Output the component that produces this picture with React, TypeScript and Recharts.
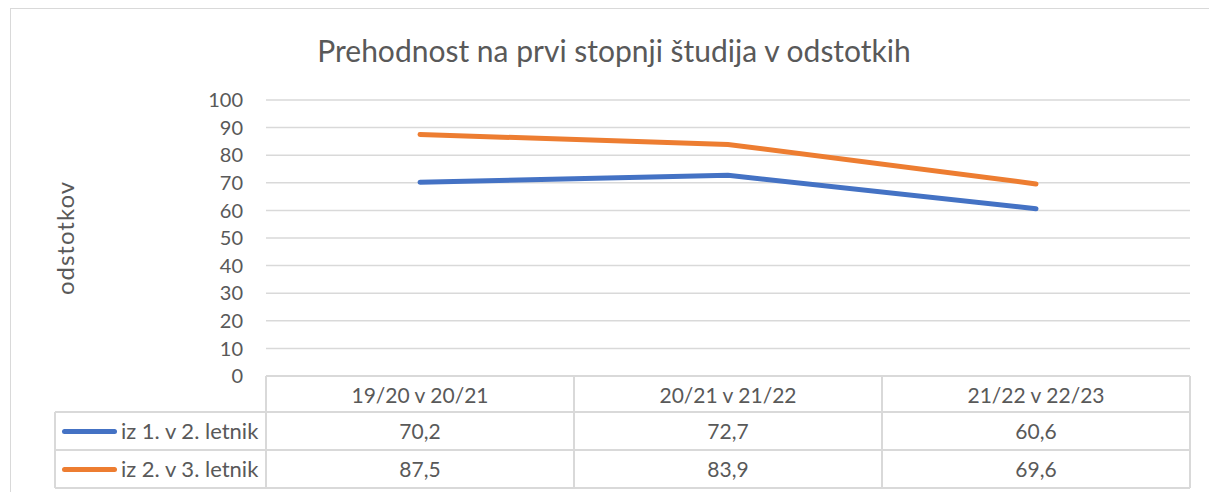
import { LineChart, Line, XAxis, YAxis, CartesianGrid } from 'recharts';

const categories = ['19/20 v 20/21', '20/21 v 21/22', '21/22 v 22/23'];
const firstToSecond = [70.2, 72.7, 60.6];
const secondToThird = [87.5, 83.9, 69.6];
const seriesNames = ['iz 1. v 2. letnik', 'iz 2. v 3. letnik'];
const seriesColors = ['#4472C4', '#ED7D31'];
const yTicks = [0, 10, 20, 30, 40, 50, 60, 70, 80, 90, 100];

const title = 'Prehodnost na prvi stopnji študija v odstotkih';
const yLabel = 'odstotkov';

const FONT = 'Lato, "Liberation Sans", sans-serif';
const TEXT = '#595959';
const GRID = '#d9d9d9';

// chart geometry (plot area matches the excel layout)
const W = 1209;
const H = 492;
const PLOT_LEFT = 266;
const PLOT_RIGHT = 1190;
const PLOT_TOP = 100;
const PLOT_BOTTOM = 376;
const ROW_H = 38;
const LEGEND_LEFT = 55;

const data = categories.map((name, i) => ({
    name,
    first: firstToSecond[i],
    second: secondToThird[i],
}));

const fmt = (v: number) => v.toFixed(1).replace('.', ',');

function DataTable() {
    const colW = (PLOT_RIGHT - PLOT_LEFT) / categories.length;
    const rows = [firstToSecond, secondToThird];
    const headerTop = PLOT_BOTTOM;
    const bodyTop = PLOT_BOTTOM + 36;
    const line = (style: React.CSSProperties, key?: string | number) => (
        <div key={key} style={{ position: 'absolute', background: GRID, ...style }} />
    );
    return (
        <>
            {/* header row vertical lines */}
            {categories.map((_, i) => line({ left: PLOT_LEFT + i * colW - 1, top: headerTop, width: 2, height: bodyTop - headerTop }, 'h' + i))}
            {line({ left: PLOT_RIGHT - 1, top: headerTop, width: 2, height: bodyTop - headerTop })}
            {/* body rows */}
            {rows.map((vals, r) => {
                const top = bodyTop + r * ROW_H;
                return (
                    <div key={r}>
                        {line({ left: LEGEND_LEFT, top: top - 1, width: PLOT_RIGHT - LEGEND_LEFT, height: 2 })}
                        {line({ left: LEGEND_LEFT - 1, top, width: 2, height: ROW_H })}
                        {vals.map((_, i) => line({ left: PLOT_LEFT + i * colW - 1, top, width: 2, height: ROW_H }, i))}
                        {line({ left: PLOT_RIGHT - 1, top, width: 2, height: ROW_H })}
                        <div style={{ position: 'absolute', left: LEGEND_LEFT + 7, top: top + ROW_H / 2 - 2.5, width: 55, height: 5, borderRadius: 3, background: seriesColors[r] }} />
                        <div style={{ position: 'absolute', left: LEGEND_LEFT + 66, top, height: ROW_H, lineHeight: ROW_H + 'px', fontSize: 22, color: TEXT, whiteSpace: 'nowrap' }}>
                            {seriesNames[r]}
                        </div>
                        {vals.map((v, i) => (
                            <div key={'v' + i} style={{ position: 'absolute', left: PLOT_LEFT + i * colW, top, width: colW, height: ROW_H, lineHeight: ROW_H + 'px', textAlign: 'center', fontSize: 21, color: TEXT }}>
                                {fmt(v)}
                            </div>
                        ))}
                    </div>
                );
            })}
            {line({ left: LEGEND_LEFT, top: bodyTop + rows.length * ROW_H - 1, width: PLOT_RIGHT - LEGEND_LEFT, height: 2 })}
        </>
    );
}

export default function App() {
    return (
        <div style={{ position: 'relative', width: W, height: H, overflow: 'hidden', background: '#fff', fontFamily: FONT }}>
            <style>{`body{margin:0}`}</style>
            {/* chart frame */}
            <div style={{ position: 'absolute', left: 10, top: 8, width: W, height: H, border: `1px solid ${GRID}` }} />
            <div style={{ position: 'absolute', left: 0, width: 1228, top: 32, textAlign: 'center', fontSize: 30, color: TEXT, whiteSpace: 'nowrap' }}>
                {title}
            </div>
            <div style={{ position: 'absolute', left: 64, top: 238, transform: 'translate(-50%, -50%) rotate(-90deg)', fontSize: 24, letterSpacing: 1, color: TEXT, whiteSpace: 'nowrap' }}>
                {yLabel}
            </div>
            <div style={{ position: 'absolute', left: 0, top: 0 }}>
                <LineChart width={W} height={H} data={data} margin={{ top: PLOT_TOP, right: W - PLOT_RIGHT, bottom: 0, left: 200 }}>
                    <CartesianGrid vertical={false} stroke={GRID} strokeWidth={1.5} />
                    <XAxis
                        dataKey="name"
                        scale="band"
                        height={H - PLOT_BOTTOM}
                        axisLine={{ stroke: GRID, strokeWidth: 2 }}
                        tickLine={false}
                        tickSize={0}
                        tickMargin={12}
                        interval={0}
                        tick={{ fill: TEXT, fontSize: 21, fontFamily: FONT }}
                    />
                    <YAxis
                        width={PLOT_LEFT - 200}
                        domain={[0, 100]}
                        ticks={yTicks}
                        interval={0}
                        axisLine={false}
                        tickLine={false}
                        tickSize={0}
                        tickMargin={23}
                        tick={{ fill: TEXT, fontSize: 20, fontFamily: FONT }}
                    />
                    <Line dataKey="first" name={seriesNames[0]} stroke={seriesColors[0]} strokeWidth={5} strokeLinecap="round" dot={false} isAnimationActive={false} />
                    <Line dataKey="second" name={seriesNames[1]} stroke={seriesColors[1]} strokeWidth={5} strokeLinecap="round" dot={false} isAnimationActive={false} />
                </LineChart>
            </div>
            <DataTable />
        </div>
    );
}
